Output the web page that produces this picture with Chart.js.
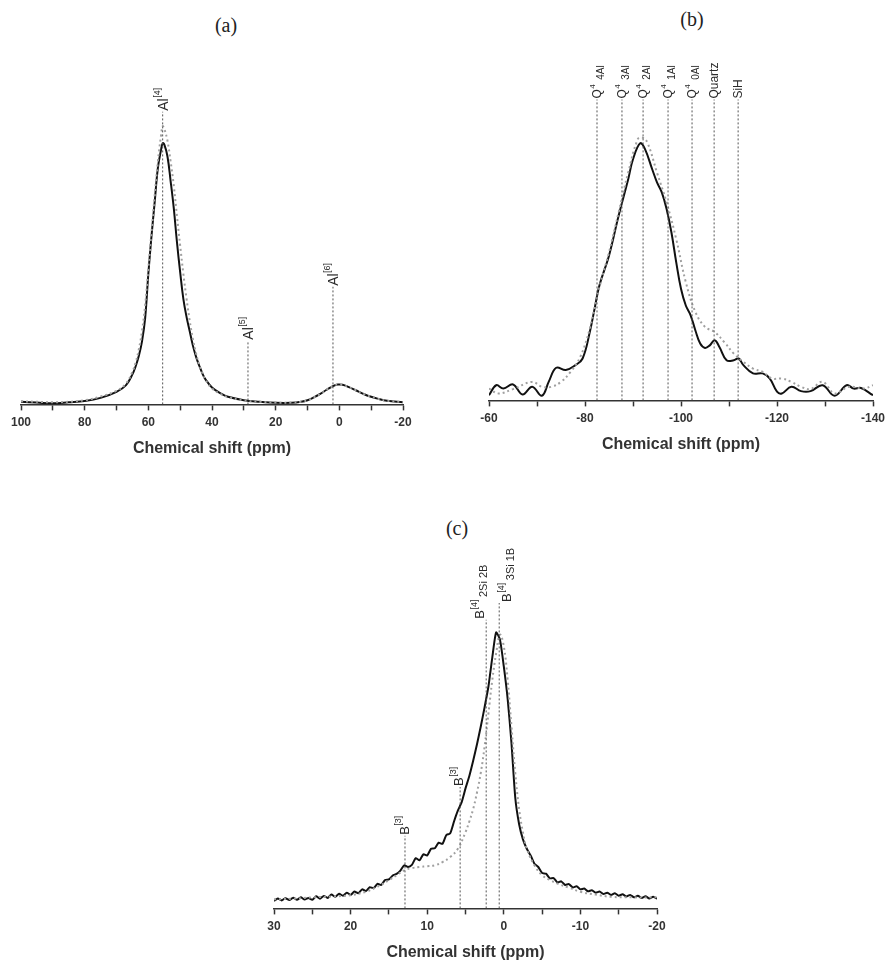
<!DOCTYPE html>
<html lang="en">
<head>
    <meta charset="UTF-8">
    <title>NMR spectra (a) (b) (c)</title>
    <script src="https://cdn.jsdelivr.net/npm/chart.js"></script>
    <style>
        body {
            margin: 0;
            background-color: white;
            width: 885px;
            height: 963px;
            position: relative;
            overflow: hidden;
        }
        .panel {
            position: absolute;
        }
        .panel-label {
            position: absolute;
            font-family: "Liberation Serif", serif;
            font-size: 20px;
            color: #222;
            transform: translate(-50%, -50%);
        }
    </style>
</head>
<body>
    <div class="panel-label" style="left:226px; top:25px;">(a)</div>
    <div class="panel-label" style="left:692px; top:19px;">(b)</div>
    <div class="panel-label" style="left:457px; top:528px;">(c)</div>

    <canvas id="chartA" class="panel" width="430" height="470" style="left:0px; top:0px;"></canvas>
    <canvas id="chartB" class="panel" width="460" height="470" style="left:440px; top:0px;"></canvas>
    <canvas id="chartC" class="panel" width="450" height="483" style="left:240px; top:480px;"></canvas>

    <script>
        // ---- (a) 27Al spectrum ----
        const aShift  = [100, 95, 90, 85, 80, 75, 70, 67, 65, 64, 63, 62, 61, 60, 59, 58, 57, 56, 55.5, 55, 54, 53, 52, 51, 50, 49, 48, 47, 46, 45, 44, 43, 42, 40, 37, 35, 30, 25, 20, 15, 12, 10, 8, 6, 4, 2, 0.5, -1, -3, -5, -8, -10, -12, -15, -20];
        const aSolid  = [1.0, 0.7, 0.4, 0.8, 1.3, 2.5, 4.8, 7.4, 11.5, 14.5, 18.5, 24, 33, 50, 64.5, 77.5, 90.5, 97.5, 100, 99.5, 95, 85.5, 75, 62, 50.6, 40.4, 33.5, 28, 22.5, 18.2, 14.8, 11.8, 9.5, 6.5, 4.0, 2.9, 1.6, 1.0, 0.6, 0.6, 1.0, 1.6, 2.7, 4.0, 5.6, 7.0, 7.6, 7.5, 6.6, 5.5, 3.8, 2.9, 2.2, 1.4, 0.8];
        const aDotted = [1.2, 1.0, 0.8, 1.0, 1.6, 3.0, 5.2, 8.0, 12.5, 16, 21, 28, 38, 52, 66, 80, 93, 103, 106.5, 105.5, 101, 93, 83.7, 72, 60.8, 50, 40.5, 32, 25, 19.5, 15, 12, 9.3, 6.1, 3.8, 2.8, 1.5, 1.0, 0.7, 0.7, 1.0, 1.6, 2.7, 4.0, 5.6, 7.0, 7.6, 7.4, 6.6, 5.5, 3.8, 2.9, 2.2, 1.4, 0.9];
        const aMarkPos  = [55.5, 28.7, 2];
        const aMarkTop  = [112, 24.4, 45];
        const aMarkText = [['Al', '[4]', ''], ['Al', '[5]', ''], ['Al', '[6]', '']];

        // ---- (b) 29Si spectrum ----
        const bShiftSolid = [-60, -61.5, -63, -65, -67, -69, -71, -72.5, -74, -76, -78, -79.5, -81, -82, -83, -85, -87, -89, -90, -91.5, -92.5, -94, -95, -96, -97, -98, -99, -100, -101, -102, -103, -104, -105, -106, -107, -108, -109.5, -111, -112, -113, -115, -117, -118.5, -120, -121, -123, -125, -127, -129.5, -132, -134.5, -136, -137.5, -140];
        const bSolid      = [2.0, 5.9, 4.6, 6.2, 2.3, 5.3, 1.8, 7.5, 12.7, 11.8, 13.7, 16.3, 26.6, 35.7, 44.7, 56.3, 71.8, 86, 93.8, 100, 97.7, 89.9, 84.8, 80.9, 74.4, 65.4, 53.8, 43.4, 36.9, 33.1, 27.2, 22.1, 20.4, 21.4, 23.4, 20.8, 15.6, 15.6, 16.3, 13.7, 10.5, 10.5, 8.5, 3.4, 2.7, 5.3, 3.6, 3.6, 5.9, 1.8, 5.9, 4.6, 4.8, 2.0];
        const bShiftDotted = [-60, -62, -65, -69, -71, -73, -75, -77, -79, -81, -83, -85, -87, -89, -91, -92, -93, -95, -97, -99, -101, -103, -105, -107, -109, -111, -113, -115, -117, -119, -121, -123, -125, -127, -129.5, -132, -135, -138, -140];
        const bDotted      = [4.6, 2.7, 4.4, 7.2, 5.3, 5.3, 7.2, 11.1, 16.9, 27.9, 44, 57.6, 73.1, 88.6, 101.6, 102.2, 100.3, 88.6, 77, 62.8, 46, 34.4, 28.6, 26.6, 22.7, 18.2, 15, 12.4, 11.1, 8.5, 8.5, 7.2, 5.3, 4.4, 7.2, 2.7, 5.3, 4.6, 5.9];
        const bMarkPos  = [-82.5, -87.7, -92.1, -97.3, -102.3, -106.9, -111.9];
        const bMarkTop  = [117, 117, 117, 117, 117, 117, 117];
        const bMarkText = [['Q', '4', '4Al'], ['Q', '4', '3Al'], ['Q', '4', '2Al'], ['Q', '4', '1Al'], ['Q', '4', '0Al'], ['Quartz', '', ''], ['SiH', '', '']];

        // ---- (c) 11B spectrum ----
        const cShiftSolid = [30, 29.5, 29, 28.5, 28, 27.5, 27, 26.5, 26, 25.5, 25, 24.5, 24, 23.5, 23, 22.5, 22, 21.5, 21, 20.5, 20, 19.5, 19, 18.5, 18, 17.5, 17, 16.5, 16, 15.5, 15, 14.5, 14, 13.5, 13, 12.5, 12, 11.5, 11, 10.5, 10, 9.5, 9, 8.5, 8, 7.5, 7, 6.5, 6, 5.5, 5, 4.5, 4, 3.5, 3, 2.5, 2, 1.5, 1, 0.5, 0, -0.5, -1, -1.5, -2, -2.5, -3, -3.5, -4, -4.5, -5, -5.5, -6, -6.5, -7, -7.5, -8, -8.5, -9, -9.5, -10, -10.5, -11, -11.5, -12, -12.5, -13, -13.5, -14, -14.5, -15, -15.5, -16, -16.5, -17, -17.5, -18, -18.5, -19, -19.5, -20];
        const cSolid      = [2.7, 3.6, 2.9, 3.7, 3.0, 3.9, 3.1, 4.0, 3.2, 3.8, 3.1, 4.4, 3.5, 4.5, 3.8, 5.0, 4.2, 5.3, 4.6, 5.7, 4.9, 6.1, 5.5, 6.9, 6.3, 7.7, 7.3, 8.9, 8.5, 10.3, 10.5, 11.9, 12.5, 13.7, 15.6, 15.0, 15.8, 18.2, 17.4, 19.6, 19.2, 21.6, 21.8, 23.8, 23.4, 26.6, 27.2, 31.5, 35.4, 38.5, 43.5, 48, 53.5, 59.5, 66, 73, 80.5, 91, 100, 97.4, 87.7, 76, 60, 40, 30.5, 25, 21.6, 19.2, 16.2, 15.0, 12.8, 12.6, 10.9, 11.0, 9.4, 9.8, 8.5, 8.8, 7.6, 8.0, 6.9, 7.2, 6.2, 6.6, 5.7, 6.1, 5.2, 5.7, 4.9, 5.5, 4.6, 5.1, 4.3, 4.9, 4.0, 4.6, 3.8, 4.4, 3.6, 4.2, 3.5];
        const cShiftDotted = [30, 27.5, 25, 22.5, 20, 18, 17, 16, 15, 14, 13, 12, 11, 10, 9, 8, 7, 6, 5, 4.5, 4, 3.5, 3, 2.5, 2, 1.5, 1, 0.5, 0, -0.5, -1, -1.5, -2, -2.5, -3, -4, -5, -6, -7, -8.5, -10, -12, -14, -17, -20];
        const cDotted      = [3.3, 3.5, 4.0, 4.3, 4.8, 6.0, 7.2, 8.6, 10.2, 12.0, 13.8, 14.6, 15.0, 15.3, 15.6, 16.8, 18.6, 21.6, 27.6, 31.5, 36, 42, 49.2, 58.8, 70.8, 82.8, 92.4, 99.2, 95, 83, 66, 49, 36, 27.5, 21.6, 15.6, 12, 10.3, 9, 7.5, 6, 5, 4.2, 4.0, 4.0];
        const cMarkPos  = [12.9, 5.7, 2.3, 0.6];
        const cMarkTop  = [26.3, 44, 104.6, 110.7];
        const cMarkText = [['B', '[3]', ''], ['B', '[3]', ''], ['B', '[4]', '2Si 2B'], ['B', '[4]', '3Si 1B']];

        const FONT = '"Liberation Sans", Arial, sans-serif';

        // rotated peak labels with superscript / subscript, placed at the top of each marker line
        const markLabels = {
            id: 'markLabels',
            afterDatasetsDraw(chart, args, opts) {
                const ctx = chart.ctx;
                const xs = chart.scales.x;
                const ys = chart.scales.y;
                const f = opts.fonts;
                opts.pos.forEach((p, i) => {
                    const [base, sup, sub] = opts.text[i];
                    const dx = opts.dx ? opts.dx[i] : 0;
                    ctx.save();
                    ctx.translate(xs.getPixelForValue(p) + dx, ys.getPixelForValue(opts.top[i]) - 1);
                    ctx.rotate(-Math.PI / 2);
                    ctx.fillStyle = '#2a2a2a';
                    ctx.textAlign = 'left';
                    ctx.textBaseline = 'alphabetic';
                    ctx.font = f[0] + 'px ' + FONT;
                    ctx.fillText(base, 0, f[0] * 0.36);
                    let w = ctx.measureText(base).width;
                    if (sup) {
                        ctx.font = f[1] + 'px ' + FONT;
                        ctx.fillText(sup, w + 0.5, -f[0] * 0.2);
                        w += ctx.measureText(sup).width + f[3];
                    }
                    if (sub) {
                        ctx.font = f[2] + 'px ' + FONT;
                        ctx.fillText(sub, w, f[0] * 0.6);
                    }
                    ctx.restore();
                });
            }
        };

        function toPoints(xs, ys) {
            return xs.map((x, i) => ({ x: x, y: ys[i] }));
        }

        function buildPanel(id, cfg) {
            const datasets = [];
            // dashed marker lines
            cfg.markPos.forEach((p, i) => {
                datasets.push({
                    data: [{ x: p, y: 0 }, { x: p, y: cfg.markTop[i] }],
                    borderColor: '#555',
                    borderWidth: 1,
                    borderDash: [2, 2],
                    pointRadius: 0
                });
            });
            datasets.push({
                data: toPoints(cfg.dotX, cfg.dotY),
                borderColor: '#a0a0a0',
                borderWidth: 2,
                borderDash: [2, 3],
                pointRadius: 0,
                tension: 0.4
            });
            datasets.push({
                data: toPoints(cfg.solidX, cfg.solidY),
                borderColor: '#111',
                borderWidth: 2,
                pointRadius: 0,
                tension: cfg.tension
            });

            return new Chart(document.getElementById(id), {
                type: 'line',
                data: { datasets: datasets },
                options: {
                    responsive: false,
                    animation: false,
                    events: [],
                    layout: { padding: cfg.padding },
                    plugins: {
                        legend: { display: false },
                        tooltip: { enabled: false },
                        markLabels: { pos: cfg.markPos, top: cfg.markTop, text: cfg.markText, dx: cfg.labelDx, fonts: cfg.labelFonts }
                    },
                    scales: {
                        x: {
                            type: 'linear',
                            reverse: true,
                            min: cfg.xMin,
                            max: cfg.xMax,
                            border: { color: '#333', width: 1.5 },
                            grid: { drawOnChartArea: false, drawTicks: true, tickLength: 6, color: '#333', tickWidth: 1.5 },
                            ticks: {
                                stepSize: cfg.step,
                                autoSkip: false,
                                maxRotation: 0,
                                padding: 5,
                                color: '#333',
                                font: { family: FONT, size: 12, weight: 'bold' },
                                callback: v => (v % cfg.labelEvery === 0 ? v : '')
                            },
                            title: {
                                display: true,
                                text: 'Chemical shift (ppm)',
                                color: '#333',
                                font: { family: FONT, size: 16, weight: 'bold' },
                                padding: { top: 4, bottom: 0 }
                            }
                        },
                        y: { display: false, min: 0, max: cfg.yMax }
                    }
                },
                plugins: [markLabels]
            });
        }

        // label fonts: [base, superscript, subscript, gap after superscript]
        buildPanel('chartA', {
            solidX: aShift, solidY: aSolid, dotX: aShift, dotY: aDotted,
            markPos: aMarkPos, markTop: aMarkTop, markText: aMarkText,
            labelFonts: [14, 9, 12, 3],
            xMin: -20, xMax: 100, step: 10, labelEvery: 20, yMax: 128, tension: 0.4,
            padding: { left: 21, right: 27, top: 70, bottom: 12 }
        });

        buildPanel('chartB', {
            solidX: bShiftSolid, solidY: bSolid, dotX: bShiftDotted, dotY: bDotted,
            markPos: bMarkPos, markTop: bMarkTop, markText: bMarkText,
            labelFonts: [12, 8, 10, 5],
            xMin: -140, xMax: -60, step: 10, labelEvery: 20, yMax: 132, tension: 0.4,
            padding: { left: 49, right: 27, top: 61, bottom: 16 }
        });

        buildPanel('chartC', {
            solidX: cShiftSolid, solidY: cSolid, dotX: cShiftDotted, dotY: cDotted,
            markPos: cMarkPos, markTop: cMarkTop, markText: cMarkText,
            labelDx: [-1, -2, -7, 7],
            labelFonts: [13, 9, 11, 3],
            xMin: -20, xMax: 30, step: 5, labelEvery: 10, yMax: 119, tension: 0.2,
            padding: { left: 34, right: 33, top: 100, bottom: 1 }
        });
    </script>
</body>
</html>
